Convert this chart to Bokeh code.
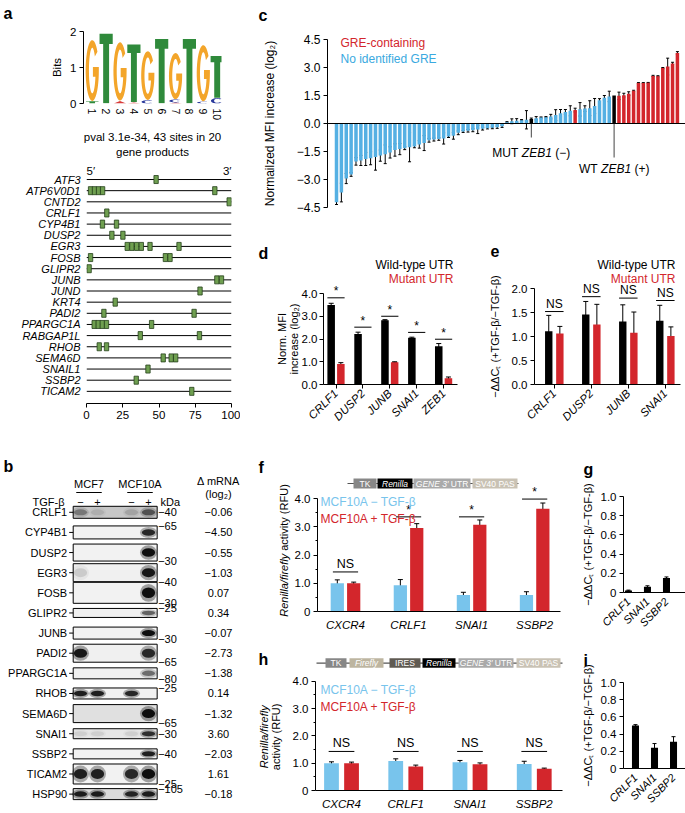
import numpy as np
from math import pi
from bokeh.plotting import figure
from bokeh.models import (Range1d, FixedTicker, ColumnDataSource, Whisker,
                          TeeHead, CustomJSTickFormatter, Span)
from bokeh.layouts import row, column
from bokeh.embed import file_html
from bokeh.resources import INLINE
from bokeh.core.properties import value

# ======================= DATA =======================
# a: sequence logo
logo_positions = [1, 2, 3, 4, 5, 6, 7, 8, 9, 10]
logo_major_letters = ["G", "T", "G", "T", "G", "T", "G", "T", "G", "T"]
logo_major_tops = [1.76, 1.94, 1.70, 1.64, 1.45, 1.79, 1.40, 1.79, 1.62, 1.32]
logo_minor_positions = [1, 3, 4, 5, 7, 7, 9, 10]
logo_minor_letters = ["T", "A", "A", "C", "A", "C", "C", "C"]
logo_minor_bits = [0.06, 0.07, 0.03, 0.09, 0.03, 0.08, 0.05, 0.15]
logo_caption = "pval 3.1e-34, 43 sites in 20\ngene products"

# a: motif sites in 3' UTRs (relative position, %)
genes = ["ATF3", "ATP6V0D1", "CNTD2", "CRLF1", "CYP4B1", "DUSP2", "EGR3", "FOSB",
         "GLIPR2", "JUNB", "JUND", "KRT4", "PADI2", "PPARGC1A", "RABGAP1L", "RHOB",
         "SEMA6D", "SNAIL1", "SSBP2", "TICAM2"]
gene_sites = [[48], [2.8, 5.5, 8.3, 11.1, 88.5], [98.4], [14], [11, 20.7], [17.5, 25.1],
              [28.1, 31.3, 34.6, 37.8, 43.8, 63.8], [2.8, 54.4, 57.6], [1.8], [89.9, 93.1],
              [78.3], [19.8], [12, 74.2], [5.3, 8.1, 10.9, 13.8, 44.9], [37.1, 77.9],
              [8.8, 13.8], [52.9, 58.4, 61.5], [42.4], [34.3], [72.6]]
gene_ticks = [0, 25, 50, 75, 100]

# b: western blot
blot_proteins = ["CRLF1", "CYP4B1", "DUSP2", "EGR3", "FOSB", "GLIPR2", "JUNB", "PADI2",
                 "PPARGC1A", "RHOB", "SEMA6D", "SNAI1", "SSBP2", "TICAM2", "HSP90"]
blot_treatment = ["−", "+", "−", "+"]
blot_intensity = [[0.35, 0.10, 0.15, 0.55], [0, 0, 0, 0.85], [0, 0, 0, 1.0], [0.12, 0, 0, 0.95],
                  [0, 0, 0, 1.0], [0, 0, 0, 0.55], [0, 0, 0, 1.0], [0.95, 0, 0, 0.85],
                  [0, 0, 0, 0.5], [0.9, 0.9, 0.85, 0], [0, 0, 0, 1.0], [0.08, 0.08, 0.08, 0.8],
                  [0, 0, 0, 0.9], [0.9, 0.9, 0.85, 1.0], [0.9, 0.9, 0.85, 0.9]]
blot_background = [0.78, 0.95, 0.95, 0.94, 0.95, 0.94, 0.95, 0.94, 0.94, 0.95, 0.88, 0.9,
                   0.95, 0.95, 0.86]
blot_kda = ["40", "65", "30", "40", "30", "25", "30", "65", "80", "25", "65", "30", "40", "25", "105"]
blot_kda_side = [0, -1, 1, 1, 1, -1, 1, 1, 1, -1, 1, 0, 0, 1, -1]
delta_mrna = [-0.06, -4.50, -0.55, -1.03, 0.07, 0.34, -0.07, -2.73, -1.38, 0.14, -1.32,
              3.60, -2.03, 1.61, -0.18]

# c: reporter screen
c_values = [-4.22, -3.70, -2.95, -2.73, -2.03, -1.98, -1.90, -1.86, -1.80, -1.72, -1.65,
            -1.55, -1.42, -1.37, -1.32, -1.27, -1.23, -1.12, -1.05, -0.90, -0.86, -0.83,
            -0.80, -0.70, -0.66, -0.50, -0.43, -0.39, -0.36, -0.32, -0.28, -0.25, -0.23,
            -0.20, -0.15, 0.07, 0.12, 0.15, 0.18, 0.20, 0.24, 0.28, 0.32, 0.34, 0.37, 0.45,
            0.55, 0.62, 0.68, 0.72, 0.76, 0.80, 0.82, 0.94, 1.25, 1.38, 1.45, 1.50, 1.48,
            1.52, 1.60, 1.75, 2.17, 2.17, 2.18, 2.55, 2.53, 2.97, 3.05, 3.22, 3.78]
c_errors = [0.12, 0.50, 0.27, 0.10, 0.20, 0.27, 0.35, 0.35, 0.70, 0.30, 0.50, 0.30, 0.33,
            0.30, 0.08, 0.78, 0.07, 0.20, 0.40, 0.10, 0.08, 0.07, 0.30, 0.05, 0.18, 0.10,
            0.05, 0.07, 0.08, 0.22, 0.07, 0.04, 0.05, 0.06, 0.06, 0.03, 0.13, 0.11, 0.03,
            0.49, 0.05, 0.09, 0.03, 0.03, 0.12, 0.29, 0.20, 0.13, 0.27, 0.10, 0.36, 0.15,
            0.40, 0.40, 0.08, 0.12, 0.28, 0.00, 0.20, 0.10, 0.10, 0.03, 0.02, 0.02, 0.02,
            0.03, 0.03, 0.03, 0.45, 0.06, 0.07]
c_gre_index = [49, 58, 59, 60, 61, 62, 63, 64, 65, 66, 67, 68, 69, 70]
c_zeb1_index = [40, 57]
c_ticks = [-4.5, -3.0, -1.5, 0.0, 1.5, 3.0, 4.5]

# d
d_genes = ["CRLF1", "DUSP2", "JUNB", "SNAI1", "ZEB1"]
d_wt = [3.50, 2.22, 2.82, 2.05, 1.68]
d_wt_err = [0.07, 0.08, 0.03, 0.03, 0.12]
d_mut = [0.90, 0.00, 0.98, -0.03, 0.28]
d_mut_err = [0.06, 0.00, 0.02, 0.02, 0.05]
d_sig_y = [3.81, 2.52, 3.00, 2.29, 1.99]

# e
e_genes = ["CRLF1", "DUSP2", "JUNB", "SNAI1"]
e_wt = [1.11, 1.46, 1.31, 1.33]
e_wt_err = [0.33, 0.27, 0.35, 0.32]
e_mut = [1.06, 1.25, 1.08, 1.01]
e_mut_err = [0.15, 0.42, 0.43, 0.19]
e_ns_y = [1.52, 1.83, 1.80, 1.75]

# f
f_genes = ["CXCR4", "CRLF1", "SNAI1", "SSBP2"]
f_minus = [1.00, 0.93, 0.58, 0.58]
f_minus_err = [0.12, 0.20, 0.10, 0.12]
f_plus = [1.00, 2.96, 3.07, 3.64]
f_plus_err = [0.04, 0.15, 0.17, 0.20]
f_sig = ["NS", "*", "*", "*"]
f_sig_y = [1.40, 3.35, 3.35, 3.98]

# g
g_genes = ["CRLF1", "SNAI1", "SSBP2"]
g_vals = [0.02, 0.06, 0.15]
g_err = [0.005, 0.01, 0.012]

# h
h_genes = ["CXCR4", "CRLF1", "SNAI1", "SSBP2"]
h_minus = [1.00, 1.08, 1.03, 0.97]
h_minus_err = [0.05, 0.08, 0.07, 0.10]
h_plus = [1.00, 0.88, 0.96, 0.80]
h_plus_err = [0.04, 0.05, 0.05, 0.02]
h_sig = ["NS", "NS", "NS", "NS"]
h_sig_y = [1.43, 1.43, 1.43, 1.43]

# i
i_genes = ["CRLF1", "SNAI1", "SSBP2"]
i_vals = [0.50, 0.24, 0.31]
i_err = [0.01, 0.05, 0.06]

# ======================= STYLE =======================
FONT = "Liberation Sans"
BLUE_C = "#55b0e3"
BLUE_F = "#78c4ec"
BLUE_T = "#3aa9e0"
RED = "#d3262c"
ORANGE = "#f3a52a"
GREEN_T = "#2f8a3b"
BLUE_L = "#2b3a9c"
RED_L = "#d83a3a"
MOTIF_FILL = "#6f9f50"
MOTIF_LINE = "#24401a"


class Fr:
    def __init__(s, W, H, l, t, r, b, xr, yr):
        s.W, s.H, s.l, s.t, s.r, s.b, s.xr, s.yr = W, H, l, t, r, b, xr, yr

    def X(s, px):
        return s.xr[0] + (px - s.l) * (s.xr[1] - s.xr[0]) / (s.r - s.l)

    def Y(s, py):
        return s.yr[1] - (py - s.t) * (s.yr[1] - s.yr[0]) / (s.b - s.t)

    def sx(s, px):
        return px * (s.xr[1] - s.xr[0]) / (s.r - s.l)

    def sy(s, py):
        return py * (s.yr[1] - s.yr[0]) / (s.b - s.t)

    def fig(s, xaxis=True, yaxis=True):
        p = figure(width=s.W, height=s.H, x_range=Range1d(*s.xr), y_range=Range1d(*s.yr),
                   output_backend="svg", toolbar_location=None,
                   x_axis_location="below" if xaxis else None,
                   y_axis_location="left" if yaxis else None,
                   min_border_left=s.l, min_border_right=s.W - s.r,
                   min_border_top=s.t, min_border_bottom=s.H - s.b)
        p.frame_align = False
        p.outline_line_color = None
        p.grid.visible = False
        p.background_fill_color = "white"
        p.border_fill_color = "white"
        for ax in p.axis:
            ax.axis_line_color = "black"
            ax.axis_line_width = 1
            ax.major_tick_line_color = "black"
            ax.major_tick_out = 4
            ax.major_tick_in = 0
            ax.minor_tick_line_color = None
            ax.major_label_text_font = FONT
            ax.major_label_text_font_size = "11.5px"
            ax.major_label_text_color = "black"
            ax.major_label_standoff = 3
            ax.axis_label_text_font = FONT
            ax.axis_label_text_font_size = "11.5px"
            ax.axis_label_text_font_style = "normal"
            ax.axis_label_text_color = "black"
        return p


def lab(p, x, y, text, size=11.5, color="black", align="left", base="middle",
        style="normal", angle=0.0, xo=0):
    # text glyph on the overlay level, so that it is not clipped to the plot frame
    p.text(x=[x], y=[y], text=[text], text_font=value(FONT), text_font_size=value(f"{size}px"),
           text_color=color, text_align=align, text_baseline=base,
           text_font_style=style, angle=angle, x_offset=xo, level="overlay")


def letter(p, fr, px, py, ch):
    lab(p, fr.X(px), fr.Y(py), ch, size=16, style="bold", base="top")


def fmt_dec(zero_plain=False):
    z = "if (Math.abs(tick) < 1e-9) { return '0'; }" if zero_plain else ""
    return CustomJSTickFormatter(code=z + "return (tick < -1e-9 ? '\u2212' : '') + Math.abs(tick).toFixed(1);")


def overrides(ticks, labels):
    return {int(t): l for t, l in zip(ticks, labels)}


def whisk(p, xs, vals, errs, size=5):
    xs2, up, lo = [], [], []
    for x, v, e in zip(xs, vals, errs):
        if e > 0:
            xs2.append(x); up.append(v + e); lo.append(v - e)
    src = ColumnDataSource(dict(x=xs2, up=up, lo=lo))
    p.add_layout(Whisker(base="x", upper="up", lower="lo", source=src, line_color="black",
                         line_width=1,
                         upper_head=TeeHead(size=size, line_color="black", line_width=1),
                         lower_head=TeeHead(size=size, line_color="black", line_width=1)))


# ---------- letter shapes for the logo ----------
def shape(ch, cx, y0, y1, w):
    h = y1 - y0
    rx, ry, cy = w / 2, h / 2, (y0 + y1) / 2
    if ch in ("G", "C"):
        a0 = 38 if ch == "G" else 45
        a1 = 360 if ch == "G" else 315
        a = np.radians(np.linspace(a0, a1, 40))
        ox = cx + rx * np.cos(a); oy = cy + ry * np.sin(a)
        irx, iry = rx * 0.5, ry * 0.75
        if ch == "G":
            bt, bb = cy + 0.06 * h, cy - 0.10 * h
            b = np.radians(np.linspace(344, a0, 40))
            ix = cx + irx * np.cos(b); iy = cy + iry * np.sin(b)
            xs = list(ox) + [cx + rx, cx + 0.05 * w, cx + 0.05 * w, ix[0]] + list(ix)
            ys = list(oy) + [bt, bt, bb, bb] + list(iy)
        else:
            b = np.radians(np.linspace(a1, a0, 40))
            ix = cx + irx * np.cos(b); iy = cy + iry * np.sin(b)
            xs = list(ox) + list(ix); ys = list(oy) + list(iy)
        return xs, ys
    if ch == "T":
        bh = 0.15 * h; sw = 0.45 * w
        xs = [cx - w / 2, cx + w / 2, cx + w / 2, cx + sw / 2, cx + sw / 2, cx - sw / 2, cx - sw / 2, cx - w / 2]
        ys = [y1, y1, y1 - bh, y1 - bh, y0, y0, y1 - bh, y1 - bh]
        return xs, ys
    return [cx - w / 2, cx, cx + w / 2], [y0, y1, y0]


LETTER_COLOR = {"G": ORANGE, "T": GREEN_T, "C": BLUE_L, "A": RED_L}

# ======================= PANEL a (logo) =======================
fa1 = Fr(240, 160, 83, 31, 221, 103, (0.37, 10.31), (0, 2))
pa1 = fa1.fig()
pa1.yaxis.ticker = FixedTicker(ticks=[0, 1, 2])
pa1.yaxis.axis_label = "Bits"
pa1.yaxis.axis_label_standoff = 4
pa1.xaxis.ticker = FixedTicker(ticks=logo_positions)
pa1.xaxis.major_label_orientation = "vertical"
pa1.xaxis.axis_line_color = None
pa1.xaxis.major_tick_line_color = None
pa1.xaxis.major_tick_out = 0
pa1.xaxis.major_label_standoff = 5
pa1.xaxis.major_label_text_font_size = "10.5px"
pa1.xaxis.axis_label = logo_caption
pa1.xaxis.axis_label_standoff = 8
cum = {}
LX, LY, LC = [], [], []
for pos, ch, bits in zip(logo_minor_positions, logo_minor_letters, logo_minor_bits):
    y0 = cum.get(pos, 0.0)
    xs, ys = shape(ch, pos, y0, y0 + bits, 0.9)
    LX.append(xs); LY.append(ys); LC.append(LETTER_COLOR[ch])
    cum[pos] = y0 + bits
for pos, ch, top in zip(logo_positions, logo_major_letters, logo_major_tops):
    y0 = cum.get(pos, 0.0) + 0.01
    xs, ys = shape(ch, pos, y0, top, 0.95)
    LX.append(xs); LY.append(ys); LC.append(LETTER_COLOR[ch])
pa1.patches(xs=LX, ys=LY, fill_color=LC, line_color=None)
letter(pa1, fa1, 3, 4, "a")

# ======================= PANEL a (sites) =======================
fa2 = Fr(240, 273, 86, 13, 231, 243, (0, 100), (-1.09, 19.54))
pa2 = fa2.fig()
pa2.xaxis.ticker = FixedTicker(ticks=gene_ticks)
rows_y = [19 - i for i in range(len(genes))]
pa2.yaxis.ticker = FixedTicker(ticks=rows_y)
pa2.yaxis.major_label_overrides = overrides(rows_y, genes)
pa2.yaxis.axis_line_color = None
pa2.yaxis.major_tick_line_color = None
pa2.yaxis.major_tick_out = 0
pa2.yaxis.major_label_standoff = 6
pa2.yaxis.major_label_text_font_style = "italic"
pa2.yaxis.major_label_text_font_size = "11px"
pa2.segment(x0=[gene_ticks[0]] * len(rows_y), y0=rows_y, x1=[gene_ticks[-1]] * len(rows_y),
            y1=rows_y, line_color="black", line_width=1)
sx_, sy_ = [], []
for yv, sites in zip(rows_y, gene_sites):
    for s in sites:
        sx_.append(s); sy_.append(yv)
pa2.rect(x=sx_, y=sy_, width=3.0, height=0.72, fill_color=MOTIF_FILL, line_color=MOTIF_LINE,
         line_width=0.8)
lab(pa2, 0, fa2.Y(16), "5′", size=11.5, base="bottom")
lab(pa2, 100, fa2.Y(16), "3′", size=11.5, base="bottom", align="right")

# ======================= PANEL b (blot) =======================
LANE_U = [0, 1, 3, 4]
ROW_PX = 20.13
LANE_PX = 17.0
LANE0_PX = 80.0
ROW0_PX = 78.8
BOX_H_PX = [12, 13, 17, 18, 21, 9, 12, 18, 11, 11, 18, 10, 10, 20, 11]
fb = Fr(240, 379, 0, 0, 240, 379, (-LANE0_PX / LANE_PX, (240 - LANE0_PX) / LANE_PX),
        (-(379 - ROW0_PX) / ROW_PX, ROW0_PX / ROW_PX))
pb = fb.fig(xaxis=False, yaxis=False)
box_l, box_r = LANE_U[0] - 0.43, LANE_U[-1] + 0.51
ry = [-i for i in range(len(blot_proteins))]
bh = [h / ROW_PX for h in BOX_H_PX]


def gray(v):
    c = int(round(v * 255))
    return "#%02x%02x%02x" % (c, c, c)


pb.rect(x=[(box_l + box_r) / 2] * len(ry), y=ry, width=box_r - box_l, height=bh,
        fill_color=[gray(v) for v in blot_background], line_color="black", line_width=1)
bx, byy, bw, bhh, ba = [], [], [], [], []
for i, ints in enumerate(blot_intensity):
    for j, v in enumerate(ints):
        if v > 0:
            bx += [LANE_U[j], LANE_U[j]]
            byy += [ry[i], ry[i]]
            bw += [1.0, 0.78]
            bhh += [bh[i] * 0.85, bh[i] * 0.5]
            ba += [0.35 * v, 0.9 * v]
pb.ellipse(x=bx, y=byy, width=bw, height=bhh, fill_color="black", fill_alpha=ba, line_color=None)
pb.segment(x0=[box_l] * len(ry), y0=ry, x1=[box_l - 4 / LANE_PX] * len(ry), y1=ry,
           line_color="black", line_width=1)
pb.text(x=[box_l - 6 / LANE_PX] * len(ry), y=ry, text=blot_proteins, text_font=value(FONT),
        text_font_size=value("11px"), text_align="right", text_baseline="middle")
kda_y = [r - s * h / 2 for r, s, h in zip(ry, blot_kda_side, bh)]
pb.text(x=[box_r + 1 / LANE_PX] * len(ry), y=kda_y, text=["−" + k for k in blot_kda],
        text_font=value(FONT), text_font_size=value("11px"), text_align="left",
        text_baseline="middle")
mrna_x = fb.X(218)
pb.text(x=[mrna_x] * len(ry), y=ry, text=[("−" if v < 0 else "") + "%.2f" % abs(v) for v in delta_mrna],
        text_font=value(FONT), text_font_size=value("11px"), text_align="center",
        text_baseline="middle")
lab(pb, (LANE_U[0] + LANE_U[1]) / 2, fb.Y(50), "MCF7", size=11, align="center")
lab(pb, (LANE_U[2] + LANE_U[3]) / 2, fb.Y(50), "MCF10A", size=11, align="center")
pb.segment(x0=[LANE_U[0] - 0.25, LANE_U[2] - 0.25], y0=[fb.Y(59)] * 2,
           x1=[LANE_U[1] + 0.25, LANE_U[3] + 0.25], y1=[fb.Y(59)] * 2, line_color="black")
lab(pb, fb.X(64), fb.Y(68), "TGF-β", size=11, align="right")
for u, s in zip(LANE_U, blot_treatment):
    lab(pb, u, fb.Y(68), s, size=11, align="center")
lab(pb, fb.X(160), fb.Y(68), "kDa", size=11)
lab(pb, mrna_x, fb.Y(47), "Δ mRNA", size=11, align="center")
lab(pb, mrna_x, fb.Y(60), "(log₂)", size=11, align="center")
letter(pb, fb, 3, 24, "b")

# ======================= PANEL c =======================
fc = Fr(445, 218, 87, 39, 445, 207, (-1.85, 71.66), (-4.5, 4.5))
pc = fc.fig(xaxis=False)
pc.yaxis.ticker = FixedTicker(ticks=c_ticks)
pc.yaxis.formatter = fmt_dec()
pc.yaxis.major_label_text_font_size = "12px"
pc.yaxis.axis_label = "Normailzed MFI increase (log₂)"
pc.yaxis.axis_label_text_font_size = "12px"
pc.yaxis.axis_label_standoff = 17
c_idx = list(range(len(c_values)))
c_col = []
for k in c_idx:
    if k in c_zeb1_index:
        c_col.append("black")
    elif k in c_gre_index:
        c_col.append(RED)
    else:
        c_col.append(BLUE_C)
pc.vbar(x=c_idx, top=c_values, bottom=0, width=0.72, fill_color=c_col, line_color=None)
pc.add_layout(Span(location=0, dimension="width", line_color="black", line_width=1))
whisk(pc, c_idx, c_values, c_errors, size=3)
mut, wt = c_zeb1_index
pc.segment(x0=[mut, wt], y0=[0, 0], x1=[mut, wt], y1=[fc.Y(137), fc.Y(157)],
           line_color="#444444", line_width=1)
ym, yw = fc.Y(152), fc.Y(168)
lab(pc, mut, ym, "MUT", size=12, align="right", xo=-13)
lab(pc, mut, ym, "ZEB1", size=12, style="italic", xo=-9.5)
lab(pc, mut, ym, "(−)", size=12, xo=24)
lab(pc, wt, yw, "WT", size=12, align="right", xo=-16.5)
lab(pc, wt, yw, "ZEB1", size=12, style="italic", xo=-13)
lab(pc, wt, yw, "(+)", size=12, xo=20.5)
lab(pc, fc.X(100), fc.Y(42), "GRE-containing", size=12, color=RED)
lab(pc, fc.X(100), fc.Y(58), "No identified GRE", size=12, color=BLUE_T)
letter(pc, fc, 18, 6, "c")

# ======================= PANEL d =======================
fd = Fr(220, 212, 83, 75, 217, 175, (-0.465, 4.517), (0, 4))
pd = fd.fig()
gx = list(range(len(d_genes)))
pd.yaxis.ticker = FixedTicker(ticks=[0, 1, 2, 3, 4])
pd.yaxis.formatter = fmt_dec()
pd.yaxis.major_label_standoff = 2
pd.xaxis.ticker = FixedTicker(ticks=gx)
pd.xaxis.major_label_overrides = overrides(gx, d_genes)
pd.xaxis.major_label_orientation = pi / 4
pd.xaxis.major_label_text_font_style = "italic"
xb = [g - 0.18 for g in gx]; xr_ = [g + 0.18 for g in gx]
pd.vbar(x=xb, top=d_wt, width=0.28, fill_color="black", line_color=None)
pd.vbar(x=xr_, top=d_mut, width=0.28, fill_color=RED, line_color=None)
whisk(pd, xb, d_wt, d_wt_err, size=5)
whisk(pd, xr_, d_mut, d_mut_err, size=5)
pd.segment(x0=[g - 0.32 for g in gx], y0=d_sig_y, x1=[g + 0.32 for g in gx], y1=d_sig_y,
           line_color="black")
for g, yv in zip(gx, d_sig_y):
    lab(pd, g, yv + fd.sy(7), "*", size=12, align="center")
lab(pd, fd.X(41), fd.Y(125), "Norm. MFI", size=11, align="center", angle=pi / 2)
lab(pd, fd.X(53), fd.Y(125), "increase (log₂)", size=11, align="center", angle=pi / 2)
lab(pd, fd.X(213), fd.Y(44), "Wild-type UTR", size=12, align="right")
lab(pd, fd.X(213), fd.Y(59), "Mutant UTR", size=12, align="right", color=RED)
letter(pd, fd, 18, 22, "d")

# ======================= PANEL e =======================
fe = Fr(225, 212, 74, 70, 220, 177, (-0.535, 3.41), (0, 2))
pe = fe.fig()
ge = list(range(len(e_genes)))
pe.yaxis.ticker = FixedTicker(ticks=[0, 0.5, 1.0, 1.5, 2.0])
pe.yaxis.formatter = fmt_dec()
pe.yaxis.axis_label = "−ΔΔCₜ (+TGF-β/−TGF-β)"
pe.yaxis.axis_label_text_font_size = "11px"
pe.yaxis.axis_label_standoff = 8
pe.xaxis.ticker = FixedTicker(ticks=ge)
pe.xaxis.major_label_overrides = overrides(ge, e_genes)
pe.xaxis.major_label_orientation = pi / 4
pe.xaxis.major_label_text_font_style = "italic"
xb = [g - 0.15 for g in ge]; xr_ = [g + 0.15 for g in ge]
pe.vbar(x=xb, top=e_wt, width=0.2, fill_color="black", line_color=None)
pe.vbar(x=xr_, top=e_mut, width=0.2, fill_color=RED, line_color=None)
whisk(pe, xb, e_wt, e_wt_err, size=5)
whisk(pe, xr_, e_mut, e_mut_err, size=5)
pe.segment(x0=[g - 0.25 for g in ge], y0=e_ns_y, x1=[g + 0.25 for g in ge], y1=e_ns_y,
           line_color="black")
for g, yv in zip(ge, e_ns_y):
    lab(pe, g, yv + fe.sy(1), "NS", size=12, align="center", base="bottom")
lab(pe, fe.X(215), fe.Y(44), "Wild-type UTR", size=12, align="right")
lab(pe, fe.X(215), fe.Y(59), "Mutant UTR", size=12, align="right", color=RED)
letter(pe, fe, 30, 22, "e")


# ======================= constructs =======================
def construct(p, fr, x0px, x1px, ypx, boxes):
    yv = fr.Y(ypx)
    p.segment(x0=[fr.X(x0px)], y0=[yv], x1=[fr.X(x1px)], y1=[yv], line_color="#555555",
              line_width=1.2)
    for (l, r, col, parts) in boxes:
        cx = fr.X((l + r) / 2)
        p.rect(x=[cx], y=[yv], width=[fr.sx(r - l)], height=[fr.sy(10)],
               fill_color=col, line_color=None)
        if len(parts) == 1:
            txt, sty, _ = parts[0]
            lab(p, cx, yv, txt, size=8.5, color="white", style=sty, align="center")
            continue
        total = sum(w for _, _, w in parts)
        start = -total / 2
        for txt, sty, w in parts:
            lab(p, cx, yv, txt, size=8.5, color="white", style=sty, xo=start)
            start += w


def box_parts_gene():
    return [("GENE 3′", "italic", 35.0), ("UTR", "normal", 17.4)]


# ======================= PANEL f =======================
ff = Fr(338, 210, 77, 40, 320, 181, (-0.444, 3.41), (0, 4 + 28 / 28.25))
pf = ff.fig()
gf = list(range(len(f_genes)))
pf.yaxis.bounds = (0, 4)
pf.yaxis.ticker = FixedTicker(ticks=[0, 1, 2, 3, 4], minor_ticks=[0.5, 1.5, 2.5, 3.5])
pf.yaxis.minor_tick_line_color = "black"
pf.yaxis.minor_tick_out = 2
pf.yaxis.minor_tick_in = 0
pf.yaxis.formatter = fmt_dec(zero_plain=True)
pf.xaxis.ticker = FixedTicker(ticks=gf)
pf.xaxis.major_label_overrides = overrides(gf, f_genes)
pf.xaxis.major_label_text_font_style = "italic"
pf.xaxis.major_tick_line_color = None
xb = [g - 0.13 for g in gf]; xr_ = [g + 0.13 for g in gf]
pf.vbar(x=xb, top=f_minus, width=0.21, fill_color=BLUE_F, line_color=None)
pf.vbar(x=xr_, top=f_plus, width=0.21, fill_color=RED, line_color=None)
whisk(pf, xb, f_minus, f_minus_err, size=5)
whisk(pf, xr_, f_plus, f_plus_err, size=5)
pf.segment(x0=[g - 0.2 for g in gf], y0=f_sig_y, x1=[g + 0.2 for g in gf], y1=f_sig_y,
           line_color="black")
for g, yv, s in zip(gf, f_sig_y, f_sig):
    if s == "*":
        lab(pf, g, yv + ff.sy(7), s, size=12, align="center")
    else:
        lab(pf, g, yv + ff.sy(1), s, size=12.5, align="center", base="bottom")
lab(pf, ff.X(80), ff.Y(71), "MCF10A − TGF-β", size=12, color=BLUE_F)
lab(pf, ff.X(80), ff.Y(88), "MCF10A + TGF-β", size=12, color=RED)
yc = ff.Y(120)
ystart = yc - ff.sy(66.3)
lab(pf, ff.X(43), ystart, "Renilla/firefly", size=11, style="italic", angle=pi / 2)
lab(pf, ff.X(43), ystart + ff.sy(66), "activity (RFU)", size=11, angle=pi / 2)
construct(pf, ff, 107, 278, 53, [
    (113, 136, "#878787", [("TK", "normal", 12)]),
    (137, 172, "#000000", [("Renilla", "italic", 28)]),
    (173, 230, "#a9a9a9", box_parts_gene()),
    (232, 277, "#c9c2b4", [("SV40 PAS", "normal", 41)]),
])
letter(pf, ff, 18, 28, "f")

# ======================= PANEL g =======================
fg = Fr(107, 210, 45, 66, 107, 162, (-0.26, 3.0), (0, 1))
pg = fg.fig()
gg = list(range(len(g_genes)))
pg.yaxis.ticker = FixedTicker(ticks=[0, 0.2, 0.4, 0.6, 0.8, 1.0])
pg.yaxis.formatter = fmt_dec(zero_plain=True)
pg.yaxis.axis_label = "−ΔΔCₜ (+TGF-β/−TGF-β)"
pg.yaxis.axis_label_text_font_size = "11px"
pg.yaxis.axis_label_standoff = 4
pg.xaxis.ticker = FixedTicker(ticks=gg)
pg.xaxis.major_label_overrides = overrides(gg, g_genes)
pg.xaxis.major_label_orientation = pi / 4
pg.xaxis.major_label_text_font_style = "italic"
pg.xaxis.major_label_text_font_size = "11px"
pg.xaxis.major_tick_line_color = None
pg.vbar(x=gg, top=g_vals, width=0.37, fill_color="black", line_color=None)
whisk(pg, gg, g_vals, g_err, size=4)
letter(pg, fg, 5, 30, "g")

# ======================= PANEL h =======================
fh = Fr(338, 172, 75, 12, 322, 156, (-0.405, 3.44), (0, 4 + 30 / 28.5))
ph = fh.fig()
gh = list(range(len(h_genes)))
ph.yaxis.bounds = (0, 4)
ph.yaxis.ticker = FixedTicker(ticks=[0, 1, 2, 3, 4], minor_ticks=[0.5, 1.5, 2.5, 3.5])
ph.yaxis.minor_tick_line_color = "black"
ph.yaxis.minor_tick_out = 2
ph.yaxis.minor_tick_in = 0
ph.yaxis.formatter = fmt_dec(zero_plain=True)
ph.xaxis.ticker = FixedTicker(ticks=gh)
ph.xaxis.major_label_overrides = overrides(gh, h_genes)
ph.xaxis.major_label_text_font_style = "italic"
ph.xaxis.major_tick_line_color = None
xb = [g - 0.156 for g in gh]; xr_ = [g + 0.156 for g in gh]
ph.vbar(x=xb, top=h_minus, width=0.23, fill_color=BLUE_F, line_color=None)
ph.vbar(x=xr_, top=h_plus, width=0.23, fill_color=RED, line_color=None)
whisk(ph, xb, h_minus, h_minus_err, size=5)
whisk(ph, xr_, h_plus, h_plus_err, size=5)
ph.segment(x0=[g - 0.2 for g in gh], y0=h_sig_y, x1=[g + 0.2 for g in gh], y1=h_sig_y,
           line_color="black")
for g, yv, s in zip(gh, h_sig_y, h_sig):
    lab(ph, g, yv + fh.sy(1), s, size=12.5, align="center", base="bottom")
lab(ph, fh.X(80), fh.Y(51), "MCF10A − TGF-β", size=12, color=BLUE_F)
lab(ph, fh.X(80), fh.Y(69), "MCF10A + TGF-β", size=12, color=RED)
lab(ph, fh.X(23), fh.Y(100), "Renilla/firefly", size=11, style="italic", angle=pi / 2, align="center")
lab(ph, fh.X(35), fh.Y(100), "activity (RFU)", size=11, angle=pi / 2, align="center")
construct(ph, fh, 76, 323, 23, [
    (85, 106, "#878787", [("TK", "normal", 12)]),
    (109, 143, "#bdb5a0", [("Firefly", "italic", 26)]),
    (149, 180, "#5f5a52", [("IRES", "normal", 21)]),
    (182, 215, "#000000", [("Renilla", "italic", 28)]),
    (218, 273, "#a9a9a9", box_parts_gene()),
    (276, 320, "#c9c2b4", [("SV40 PAS", "normal", 41)]),
])
letter(ph, fh, 18, 10, "h")

# ======================= PANEL i =======================
fi = Fr(107, 172, 45, 42, 107, 137, (-0.63, 2.63), (0, 1))
pi_ = fi.fig()
gi = list(range(len(i_genes)))
pi_.yaxis.ticker = FixedTicker(ticks=[0, 0.2, 0.4, 0.6, 0.8, 1.0])
pi_.yaxis.formatter = fmt_dec(zero_plain=True)
pi_.yaxis.axis_label = "−ΔΔCₜ (+TGF-β/−TGF-β)"
pi_.yaxis.axis_label_text_font_size = "11px"
pi_.yaxis.axis_label_standoff = 4
pi_.xaxis.ticker = FixedTicker(ticks=gi)
pi_.xaxis.major_label_overrides = overrides(gi, i_genes)
pi_.xaxis.major_label_orientation = pi / 4
pi_.xaxis.major_label_text_font_style = "italic"
pi_.xaxis.major_label_text_font_size = "11px"
pi_.xaxis.major_tick_line_color = None
pi_.vbar(x=gi, top=i_vals, width=0.37, fill_color="black", line_color=None)
whisk(pi_, gi, i_vals, i_err, size=4)
letter(pi_, fi, 5, 8, "i")

# ======================= LAYOUT =======================
left = column(pa1, pa2, pb)
right = column(pc, row(pd, pe), row(pf, pg), row(ph, pi_))
layout = row(left, right)
open("out.html", "w").write(file_html(layout, INLINE))
